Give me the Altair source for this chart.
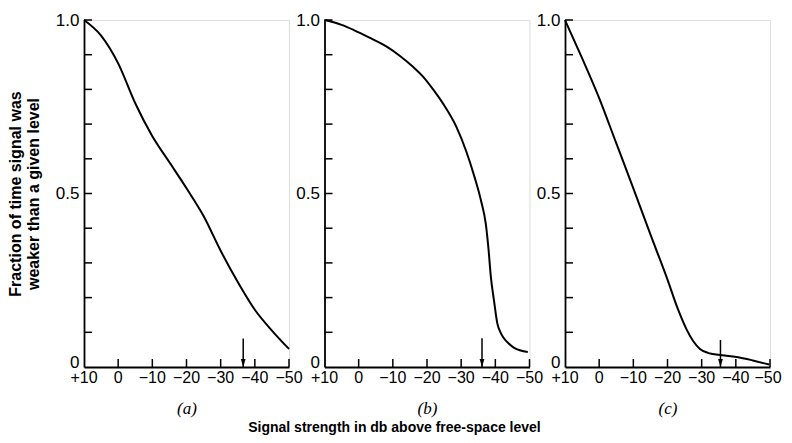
import altair as alt
import pandas as pd

# ---- data ----
a_db = [10, 5, 0, -5, -10, -15, -20, -25, -30, -35, -40, -45, -50]
a_frac = [1.0, 0.955, 0.875, 0.76, 0.665, 0.59, 0.515, 0.435, 0.335, 0.245, 0.165, 0.105, 0.052]

b_db = [10, 5, 1.4, -3, -8.2, -12, -15.9, -18.9, -22, -24.7, -28.6, -31.4, -33.9, -35.8,
        -37.2, -38.0, -38.7, -39.6, -40.6, -41.5, -42.5, -44, -45.5, -49.5]
b_frac = [1.0, 0.986, 0.971, 0.95, 0.923, 0.897, 0.865, 0.836, 0.797, 0.759, 0.692, 0.624, 0.548, 0.48,
          0.413, 0.34, 0.259, 0.192, 0.125, 0.1, 0.083, 0.067, 0.055, 0.043]

c_db = [10, 5, 0, -5, -10, -15, -20, -23, -25.5, -27.5, -29.5, -32, -36, -40.2, -45, -49.8]
c_frac = [1.0, 0.89, 0.775, 0.645, 0.515, 0.382, 0.252, 0.168, 0.11, 0.075, 0.052, 0.04, 0.034, 0.029, 0.019, 0.007]

arrow_db = [-36.6, -36.1, -35.5]
arrow_top = [0.082, 0.083, 0.078]

panel_names = ["(a)", "(b)", "(c)"]
x_label_values = [10, 0, -10, -20, -30, -40, -50]
x_tick_values = [0, -10, -20, -30, -40, -50]
y_label_values = [0, 0.5, 1]
y_tick_values = [0.1, 0.2, 0.3, 0.4, 0.5, 0.6, 0.7, 0.8, 0.9, 1.0]

y_title = ["Fraction of time signal was", "weaker than a given level"]
x_title = "Signal strength in db above free-space level"

SANS = "Liberation Sans"
SERIF = "Liberation Serif"


def db_label(v):
    if v > 0:
        return "+" + str(v)
    if v < 0:
        return "\u2212" + str(abs(v))
    return "0"


Y_EXPR = "datum.value == 1 ? '1.0' : (datum.value == 0 ? '0' : '0.5')"
ZERO_UP = {"condition": {"test": "datum.value == 0", "value": -5}, "value": 0}


def panel(db, frac, name, a_db, a_top, first, last):
    xscale = alt.Scale(domain=[-50, 10], reverse=True, nice=False, zero=False)
    yscale = alt.Scale(domain=[0, 1], nice=False)
    xaxis = alt.Axis(values=x_label_values, labels=False, ticks=False, grid=False,
                     domainColor="black", domainWidth=1.8,
                     title=name, titleFont=SERIF, titleFontStyle="italic", titleFontWeight="normal",
                     titleFontSize=17, titleColor="black", titlePadding=33)
    common_y = dict(values=y_label_values, labelExpr=Y_EXPR, ticks=False, grid=False,
                    labelFlush=False, labelOverlap=False, labelFont=SANS, labelFontSize=17,
                    labelColor="black", labelPadding=5, labelOffset=ZERO_UP,
                    domainColor="black", domainWidth=1.8)
    if first:
        yaxis = alt.Axis(title=y_title, titleFont=SANS, titleFontSize=16, titleFontWeight="bold",
                         titleColor="black", titleLineHeight=18, titlePadding=14, **common_y)
    else:
        yaxis = alt.Axis(title=None, **common_y)

    curve = pd.DataFrame({"db": db, "frac": frac})
    line = alt.Chart(curve).mark_line(color="black", strokeWidth=2, interpolate="monotone").encode(
        x=alt.X("db:Q", scale=xscale, axis=xaxis),
        y=alt.Y("frac:Q", scale=yscale, axis=yaxis),
    )

    yt = pd.DataFrame({"frac": y_tick_values, "db": [10] * len(y_tick_values)})
    yticks = alt.Chart(yt).mark_tick(orient="horizontal", size=8, thickness=1.5, color="black",
                                     xOffset=4, opacity=1).encode(
        x=alt.X("db:Q", scale=xscale), y=alt.Y("frac:Q", scale=yscale))

    xt = pd.DataFrame({"db": x_tick_values, "frac": [0] * len(x_tick_values)})
    xticks = alt.Chart(xt).mark_tick(orient="vertical", size=8, thickness=1.5, color="black",
                                     yOffset=-4, opacity=1).encode(
        x=alt.X("db:Q", scale=xscale), y=alt.Y("frac:Q", scale=yscale))

    # x tick labels as text marks placed through the scales
    if last:
        centred = [v for v in x_label_values if v != -50]
        edge = [v for v in x_label_values if v == -50]
    else:
        centred = list(x_label_values)
        edge = []
    lab_c = pd.DataFrame({"db": centred, "frac": [0] * len(centred),
                          "label": [db_label(v) for v in centred]})
    labels = [alt.Chart(lab_c).mark_text(font=SANS, fontSize=16, color="black", baseline="top",
                                         align="center", dy=3).encode(
        x=alt.X("db:Q", scale=xscale), y=alt.Y("frac:Q", scale=yscale), text="label:N")]
    if edge:
        lab_e = pd.DataFrame({"db": edge, "frac": [0] * len(edge),
                              "label": [db_label(v) for v in edge]})
        labels.append(alt.Chart(lab_e).mark_text(font=SANS, fontSize=16, color="black",
                                                 baseline="top", align="center", dx=-2, dy=3).encode(
            x=alt.X("db:Q", scale=xscale), y=alt.Y("frac:Q", scale=yscale), text="label:N"))

    ar = pd.DataFrame({"db": [a_db], "top": [a_top], "base": [0.0]})
    shaft = alt.Chart(ar).mark_rule(color="black", strokeWidth=1.5).encode(
        x=alt.X("db:Q", scale=xscale), y=alt.Y("top:Q", scale=yscale), y2="base:Q")
    head = alt.Chart(ar).mark_point(shape="M-0.6,-1L0.6,-1L0,1Z", filled=True, color="black",
                                    size=64, yOffset=-4, opacity=1).encode(
        x=alt.X("db:Q", scale=xscale), y=alt.Y("base:Q", scale=yscale))

    return alt.layer(line, yticks, xticks, shaft, head, *labels).properties(width=205, height=347)


pa = panel(a_db, a_frac, panel_names[0], arrow_db[0], arrow_top[0], True, False)
pb = panel(b_db, b_frac, panel_names[1], arrow_db[1], arrow_top[1], False, False)
pc = panel(c_db, c_frac, panel_names[2], arrow_db[2], arrow_top[2], False, True)

chart = alt.hconcat(pa, pb, pc, spacing=35.5, bounds="flush").properties(
    title=alt.TitleParams(x_title, orient="bottom", anchor="middle", font=SANS, fontSize=14,
                          fontWeight="bold", color="black", offset=4),
    padding={"left": -2, "top": 2, "right": 0, "bottom": 0},
).configure_view(stroke=None).configure(background="white")

chart.save("out.html", embed_options={"renderer": "svg", "actions": False})
